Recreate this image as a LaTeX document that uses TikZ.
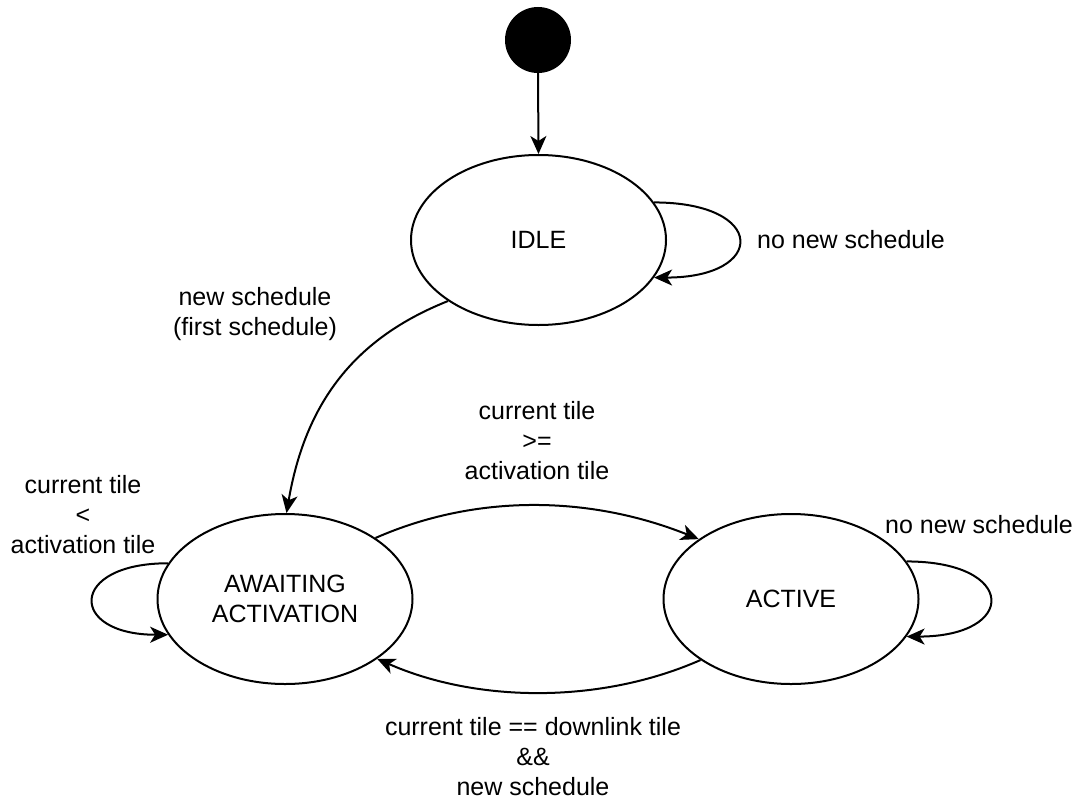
\documentclass[tikz,border=0pt]{standalone}
\usepackage{fontspec}
\setmainfont{Liberation Sans}
\usetikzlibrary{shapes.geometric,arrows.meta}
\begin{document}
\begin{tikzpicture}[x=1pt,y=-1pt,
  every node/.style={font=\fontsize{25}{30}\selectfont},
  state/.style={draw,ellipse,line width=2pt,minimum width=255pt,minimum height=170pt,inner sep=0pt,align=center},
  initdot/.style={circle,fill=black,minimum size=66pt,inner sep=0pt},
  lbl/.style={align=center,inner sep=0pt},
  trans/.style={line width=2pt,-{Stealth[length=18pt,width=16pt,inset=5pt]}}
]
\useasboundingbox (0,0) rectangle (1078,800);

% states
\node[initdot] (init) at (538,40) {};
\node[state] (idle) at (538.5,240) {IDLE};
\node[state] (await) at (285,599) {AWAITING\\ACTIVATION};
\node[state] (active) at (791,599) {ACTIVE};

% transitions
\draw[trans] (init.south) -- (idle.north);
\draw[trans] (idle.18) .. controls +(113,0) and +(113,0) .. (idle.342);
\draw[trans] (idle.214) .. controls +(-93,37) and +(19,-111) .. (await.89);
\draw[trans] (await.163) .. controls +(-100,0) and +(-100,0) .. (await.197);
\draw[trans] (await.34) .. controls +(100,-44) and +(-110,-44) .. (active.147);
\draw[trans] (active.18) .. controls +(111,0) and +(111,0) .. (active.342);
\draw[trans] (active.214) .. controls +(-100,44) and +(100,44) .. (await.327);

% transition labels
\node[lbl] (l1) at (851,240) {no new schedule};
\node[lbl] (l2) at (255,314) {new schedule\\(first schedule)};
\node[lbl] (l3) at (83,515) {current tile\\<\\activation tile};
\node[lbl] (l4) at (537,441) {current tile\\>=\\activation tile};
\node[lbl] (l5) at (979,525) {no new schedule};
\node[lbl] (l6) at (533,757) {current tile == downlink tile\\\&\&\\new schedule};
\end{tikzpicture}
\end{document}
